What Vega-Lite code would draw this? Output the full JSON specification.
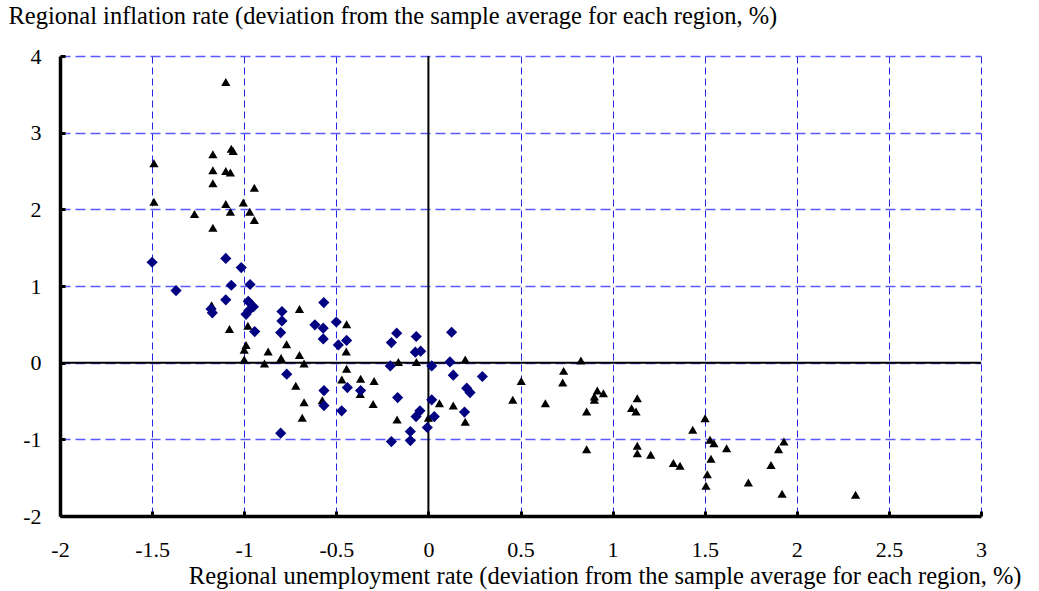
{
  "$schema": "https://vega.github.io/schema/vega-lite/v6.json",
  "width": 921,
  "height": 460,
  "autosize": {"type": "none"},
  "padding": {"left": 60, "top": 56, "right": 58, "bottom": 75},
  "background": "white",
  "config": {
    "view": {"stroke": null},
    "font": "Liberation Serif"
  },
  "datasets": {
    "regions": [
      {"u": -1.10, "p": 3.66, "group": "A"},
      {"u": -1.07, "p": 2.79, "group": "A"},
      {"u": -1.06, "p": 2.76, "group": "A"},
      {"u": -1.17, "p": 2.72, "group": "A"},
      {"u": -1.49, "p": 2.60, "group": "A"},
      {"u": -1.17, "p": 2.51, "group": "A"},
      {"u": -1.10, "p": 2.50, "group": "A"},
      {"u": -1.075, "p": 2.48, "group": "A"},
      {"u": -1.17, "p": 2.34, "group": "A"},
      {"u": -0.945, "p": 2.28, "group": "A"},
      {"u": -1.49, "p": 2.10, "group": "A"},
      {"u": -1.10, "p": 2.07, "group": "A"},
      {"u": -1.005, "p": 2.09, "group": "A"},
      {"u": -1.075, "p": 1.97, "group": "A"},
      {"u": -1.27, "p": 1.94, "group": "A"},
      {"u": -0.97, "p": 1.97, "group": "A"},
      {"u": -0.945, "p": 1.86, "group": "A"},
      {"u": -1.17, "p": 1.76, "group": "A"},
      {"u": -1.177, "p": 0.75, "group": "A"},
      {"u": -1.08, "p": 0.44, "group": "A"},
      {"u": -0.98, "p": 0.48, "group": "A"},
      {"u": -0.99, "p": 0.23, "group": "A"},
      {"u": -1.0, "p": 0.17, "group": "A"},
      {"u": -1.0, "p": 0.04, "group": "A"},
      {"u": -0.87, "p": 0.145, "group": "A"},
      {"u": -0.89, "p": -0.01, "group": "A"},
      {"u": -0.80, "p": 0.06, "group": "A"},
      {"u": -0.77, "p": 0.24, "group": "A"},
      {"u": -0.70, "p": 0.70, "group": "A"},
      {"u": -0.70, "p": 0.10, "group": "A"},
      {"u": -0.675, "p": -0.01, "group": "A"},
      {"u": -0.72, "p": -0.30, "group": "A"},
      {"u": -0.675, "p": -0.515, "group": "A"},
      {"u": -0.685, "p": -0.72, "group": "A"},
      {"u": -0.576, "p": -0.49, "group": "A"},
      {"u": -0.444, "p": 0.50, "group": "A"},
      {"u": -0.446, "p": 0.145, "group": "A"},
      {"u": -0.444, "p": -0.08, "group": "A"},
      {"u": -0.47, "p": -0.22, "group": "A"},
      {"u": -0.368, "p": -0.21, "group": "A"},
      {"u": -0.295, "p": -0.24, "group": "A"},
      {"u": -0.37, "p": -0.41, "group": "A"},
      {"u": -0.30, "p": -0.54, "group": "A"},
      {"u": -0.17, "p": -0.74, "group": "A"},
      {"u": -0.163, "p": 0.01, "group": "A"},
      {"u": -0.065, "p": 0.01, "group": "A"},
      {"u": 0.20, "p": 0.04, "group": "A"},
      {"u": 0.0, "p": -0.72, "group": "A"},
      {"u": 0.06, "p": -0.53, "group": "A"},
      {"u": 0.135, "p": -0.56, "group": "A"},
      {"u": 0.20, "p": -0.77, "group": "A"},
      {"u": 0.458, "p": -0.485, "group": "A"},
      {"u": 0.504, "p": -0.24, "group": "A"},
      {"u": 0.635, "p": -0.53, "group": "A"},
      {"u": 0.734, "p": -0.107, "group": "A"},
      {"u": 0.729, "p": -0.26, "group": "A"},
      {"u": 0.828, "p": 0.027, "group": "A"},
      {"u": 0.917, "p": -0.364, "group": "A"},
      {"u": 0.95, "p": -0.398, "group": "A"},
      {"u": 0.901, "p": -0.442, "group": "A"},
      {"u": 0.901, "p": -0.485, "group": "A"},
      {"u": 0.859, "p": -0.638, "group": "A"},
      {"u": 0.859, "p": -1.128, "group": "A"},
      {"u": 1.134, "p": -0.463, "group": "A"},
      {"u": 1.103, "p": -0.593, "group": "A"},
      {"u": 1.127, "p": -0.638, "group": "A"},
      {"u": 1.134, "p": -1.085, "group": "A"},
      {"u": 1.134, "p": -1.18, "group": "A"},
      {"u": 1.207, "p": -1.202, "group": "A"},
      {"u": 1.435, "p": -0.876, "group": "A"},
      {"u": 1.502, "p": -0.724, "group": "A"},
      {"u": 1.529, "p": -1.006, "group": "A"},
      {"u": 1.55, "p": -1.05, "group": "A"},
      {"u": 1.619, "p": -1.115, "group": "A"},
      {"u": 1.534, "p": -1.254, "group": "A"},
      {"u": 1.33, "p": -1.31, "group": "A"},
      {"u": 1.366, "p": -1.345, "group": "A"},
      {"u": 1.514, "p": -1.454, "group": "A"},
      {"u": 1.507, "p": -1.606, "group": "A"},
      {"u": 1.737, "p": -1.563, "group": "A"},
      {"u": 1.93, "p": -1.029, "group": "A"},
      {"u": 1.901, "p": -1.128, "group": "A"},
      {"u": 1.86, "p": -1.336, "group": "A"},
      {"u": 1.92, "p": -1.71, "group": "A"},
      {"u": 2.319, "p": -1.724, "group": "A"},

      {"u": -1.50, "p": 1.31, "group": "B"},
      {"u": -1.37, "p": 0.94, "group": "B"},
      {"u": -1.10, "p": 1.36, "group": "B"},
      {"u": -1.016, "p": 1.24, "group": "B"},
      {"u": -1.07, "p": 1.01, "group": "B"},
      {"u": -0.968, "p": 1.02, "group": "B"},
      {"u": -1.10, "p": 0.82, "group": "B"},
      {"u": -0.978, "p": 0.80, "group": "B"},
      {"u": -0.95, "p": 0.73, "group": "B"},
      {"u": -0.975, "p": 0.68, "group": "B"},
      {"u": -0.99, "p": 0.63, "group": "B"},
      {"u": -1.173, "p": 0.65, "group": "B"},
      {"u": -1.18, "p": 0.70, "group": "B"},
      {"u": -0.943, "p": 0.405, "group": "B"},
      {"u": -0.795, "p": 0.667, "group": "B"},
      {"u": -0.795, "p": 0.545, "group": "B"},
      {"u": -0.802, "p": 0.393, "group": "B"},
      {"u": -0.568, "p": 0.784, "group": "B"},
      {"u": -0.616, "p": 0.493, "group": "B"},
      {"u": -0.571, "p": 0.45, "group": "B"},
      {"u": -0.571, "p": 0.31, "group": "B"},
      {"u": -0.50, "p": 0.53, "group": "B"},
      {"u": -0.489, "p": 0.232, "group": "B"},
      {"u": -0.444, "p": 0.29, "group": "B"},
      {"u": -0.769, "p": -0.15, "group": "B"},
      {"u": -0.567, "p": -0.364, "group": "B"},
      {"u": -0.567, "p": -0.56, "group": "B"},
      {"u": -0.471, "p": -0.628, "group": "B"},
      {"u": -0.44, "p": -0.325, "group": "B"},
      {"u": -0.802, "p": -0.92, "group": "B"},
      {"u": -0.368, "p": -0.364, "group": "B"},
      {"u": -0.172, "p": 0.385, "group": "B"},
      {"u": -0.201, "p": 0.262, "group": "B"},
      {"u": -0.066, "p": 0.341, "group": "B"},
      {"u": 0.126, "p": 0.397, "group": "B"},
      {"u": -0.071, "p": 0.137, "group": "B"},
      {"u": -0.042, "p": 0.15, "group": "B"},
      {"u": -0.207, "p": -0.042, "group": "B"},
      {"u": 0.018, "p": -0.042, "group": "B"},
      {"u": 0.117, "p": 0.01, "group": "B"},
      {"u": 0.135, "p": -0.163, "group": "B"},
      {"u": 0.293, "p": -0.18, "group": "B"},
      {"u": 0.208, "p": -0.333, "group": "B"},
      {"u": 0.226, "p": -0.39, "group": "B"},
      {"u": -0.167, "p": -0.455, "group": "B"},
      {"u": 0.018, "p": -0.485, "group": "B"},
      {"u": -0.046, "p": -0.628, "group": "B"},
      {"u": -0.067, "p": -0.703, "group": "B"},
      {"u": 0.032, "p": -0.703, "group": "B"},
      {"u": -0.006, "p": -0.846, "group": "B"},
      {"u": -0.098, "p": -0.898, "group": "B"},
      {"u": -0.201, "p": -1.029, "group": "B"},
      {"u": -0.098, "p": -1.016, "group": "B"},
      {"u": 0.196, "p": -0.645, "group": "B"}
    ]
  },
  "layer": [
    {
      "data": {"values": [{"v": 0}]},
      "mark": {"type": "rule", "color": "black", "strokeWidth": 2},
      "encoding": {
        "x": {
          "field": "v",
          "type": "quantitative",
          "scale": {"domain": [-2, 3], "nice": false, "zero": false},
          "axis": {
            "values": [-2, -1.5, -1, -0.5, 0, 0.5, 1, 1.5, 2, 2.5, 3],
            "labelExpr": "'' + datum.value",
            "labelFont": "Liberation Serif",
            "labelFontSize": 22,
            "labelColor": "black",
            "labelPadding": 28,
            "labelFlush": false,
            "domainColor": "black",
            "domainWidth": 3.5,
            "tickColor": "black",
            "tickWidth": 3,
            "tickSize": -5,
            "grid": true,
            "gridColor": "#2323e0",
            "gridWidth": 1,
            "gridDash": [7, 4],
            "title": "Regional unemployment rate (deviation from the sample average for each region, %)",
            "titleFont": "Liberation Serif",
            "titleFontSize": 24.5,
            "titleFontWeight": "normal",
            "titleColor": "black",
            "titleAnchor": null,
            "titleAlign": "right",
            "titleBaseline": "alphabetic",
            "titleX": 961,
            "titleY": 67
          }
        }
      }
    },
    {
      "data": {"values": [{"v": 0}]},
      "mark": {"type": "rule", "color": "black", "strokeWidth": 2},
      "encoding": {
        "y": {
          "field": "v",
          "type": "quantitative",
          "scale": {"domain": [-2, 4], "nice": false, "zero": false},
          "axis": {
            "values": [-2, -1, 0, 1, 2, 3, 4],
            "labelExpr": "'' + datum.value",
            "labelFont": "Liberation Serif",
            "labelFontSize": 22,
            "labelColor": "black",
            "labelPadding": 24,
            "labelFlush": false,
            "domainColor": "black",
            "domainWidth": 3.5,
            "tickColor": "black",
            "tickWidth": 3,
            "tickSize": -5,
            "grid": true,
            "gridColor": "#5a5aff",
            "gridWidth": 1.5,
            "gridDash": [10, 5],
            "title": "Regional inflation rate (deviation from the sample average for each region, %)",
            "titleFont": "Liberation Serif",
            "titleFontSize": 24.5,
            "titleFontWeight": "normal",
            "titleColor": "black",
            "titleAngle": 0,
            "titleAnchor": null,
            "titleAlign": "left",
            "titleBaseline": "alphabetic",
            "titleX": -52,
            "titleY": -33
          }
        }
      }
    },
    {
      "data": {"name": "regions"},
      "mark": {"type": "point", "filled": true, "opacity": 1},
      "encoding": {
        "x": {"field": "u", "type": "quantitative"},
        "y": {"field": "p", "type": "quantitative"},
        "shape": {
          "field": "group",
          "type": "nominal",
          "scale": {"domain": ["A", "B"], "range": ["triangle-up", "diamond"]},
          "legend": null
        },
        "color": {
          "field": "group",
          "type": "nominal",
          "scale": {"domain": ["A", "B"], "range": ["#000000", "#000080"]},
          "legend": null
        },
        "size": {
          "field": "group",
          "type": "nominal",
          "scale": {"domain": ["A", "B"], "range": [85, 125]},
          "legend": null
        },
        "order": {"field": "group", "sort": "ascending"}
      }
    }
  ]
}
